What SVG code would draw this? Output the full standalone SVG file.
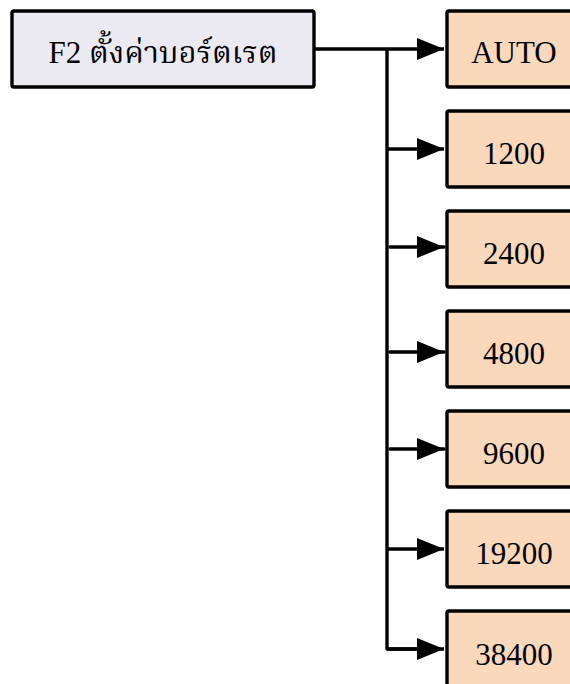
<svg xmlns="http://www.w3.org/2000/svg" width="570" height="684" viewBox="0 0 570 684">
<style>
.box{stroke:#000;stroke-width:3.4;stroke-linejoin:round}
.main{fill:#EBE9F2}
.opt{fill:#FAD8BB}
.t{font-family:"Liberation Serif","Times New Roman","Noto Serif Thai","Noto Sans Thai",serif;font-size:31px;fill:#000;text-anchor:middle}
.c{fill:none;stroke:#000;stroke-width:3.4;stroke-linejoin:round}
</style>
<defs>
<marker id="ah" markerUnits="userSpaceOnUse" markerWidth="28" markerHeight="22" refX="27" refY="11" orient="auto">
<path d="M0,0 L27,11 L0,22 Z" fill="#000"/>
</marker>
</defs>
<g id="connectors">
<path class="c" d="M387,49 V649 H420"/>
<path class="c" d="M314,49 H444" marker-end="url(#ah)"/>
<path class="c" d="M387,149 H444" marker-end="url(#ah)"/>
<path class="c" d="M390,247 H444" marker-end="url(#ah)" stroke-linecap="round"/>
<path class="c" d="M390,352 H444" marker-end="url(#ah)" stroke-linecap="round"/>
<path class="c" d="M390,449 H444" marker-end="url(#ah)" stroke-linecap="round"/>
<path class="c" d="M387,549 H444" marker-end="url(#ah)"/>
<path class="c" d="M387,649 H444" marker-end="url(#ah)"/>
</g>
<g id="node-f2">
<rect class="box main" x="12" y="11" width="302" height="76" rx="2"/>
<text class="t" x="163" y="63">F2 ตั้งค่าบอร์ตเรต</text>
</g>
<g id="node-auto">
<rect class="box opt" x="447" y="11" width="134" height="76" rx="2"/>
<text class="t" x="514" y="63">AUTO</text>
</g>
<g id="node-1200">
<rect class="box opt" x="447" y="111" width="134" height="76" rx="2"/>
<text class="t" x="514" y="164">1200</text>
</g>
<g id="node-2400">
<rect class="box opt" x="447" y="211" width="134" height="76" rx="2"/>
<text class="t" x="514" y="264">2400</text>
</g>
<g id="node-4800">
<rect class="box opt" x="447" y="311" width="134" height="76" rx="2"/>
<text class="t" x="514" y="364">4800</text>
</g>
<g id="node-9600">
<rect class="box opt" x="447" y="411" width="134" height="76" rx="2"/>
<text class="t" x="514" y="464">9600</text>
</g>
<g id="node-19200">
<rect class="box opt" x="447" y="511" width="134" height="76" rx="2"/>
<text class="t" x="514" y="564">19200</text>
</g>
<g id="node-38400">
<rect class="box opt" x="447" y="611" width="134" height="76" rx="2"/>
<text class="t" x="514" y="665">38400</text>
</g>
</svg>
